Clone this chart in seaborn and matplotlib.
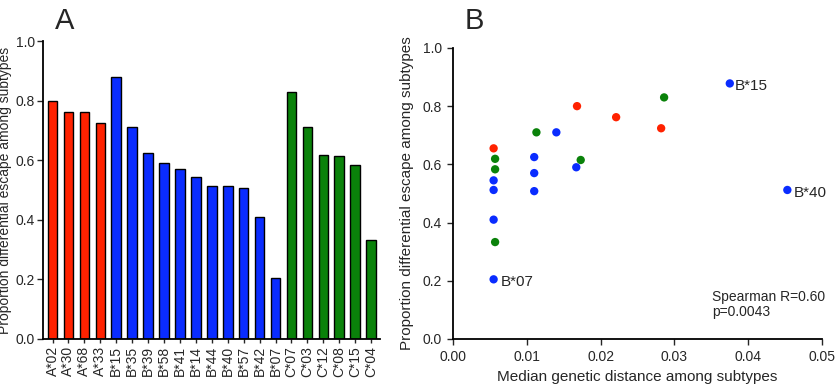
import matplotlib
matplotlib.use("Agg")
import matplotlib.pyplot as plt
import seaborn as sns
import pandas as pd

sns.set_theme(style="ticks")
plt.rcParams['font.family'] = ['Liberation Sans', 'DejaVu Sans']

# Panel A data
alleles = ["A*02", "A*30", "A*68", "A*33",
           "B*15", "B*35", "B*39", "B*58", "B*41", "B*14", "B*44", "B*40", "B*57", "B*42", "B*07",
           "C*07", "C*03", "C*12", "C*08", "C*15", "C*04"]
escape = [0.800, 0.762, 0.762, 0.724,
          0.878, 0.710, 0.625, 0.590, 0.570, 0.545, 0.512, 0.512, 0.508, 0.410, 0.205,
          0.830, 0.710, 0.619, 0.615, 0.583, 0.333]
locus = [a[0] for a in alleles]

# Panel B data
red_x = [0.0055, 0.0168, 0.0221, 0.0282]
red_y = [0.655, 0.800, 0.762, 0.724]
green_x = [0.0057, 0.0057, 0.0057, 0.0113, 0.0173, 0.0286]
green_y = [0.619, 0.583, 0.333, 0.710, 0.615, 0.830]
blue_x = [0.0055, 0.0055, 0.0055, 0.0055, 0.0110, 0.0110, 0.0110, 0.0140, 0.0167, 0.0375, 0.0453]
blue_y = [0.545, 0.512, 0.410, 0.205, 0.625, 0.570, 0.508, 0.710, 0.590, 0.878, 0.512]

colors = {"A": "#ff2200", "B": "#0a2cff", "C": "#0a820a"}

fig = plt.figure(figsize=(8.36, 3.84), dpi=100)
axA = fig.add_axes([0.0514, 0.1172, 0.403, 0.776])
axB = fig.add_axes([0.5419, 0.1172, 0.4414, 0.758])

dfA = pd.DataFrame({"allele": alleles, "escape": escape, "locus": locus})
sns.barplot(data=dfA, x="allele", y="escape", hue="locus", palette=colors,
            dodge=False, width=0.6, edgecolor="black", linewidth=1.0,
            legend=False, ax=axA, saturation=1)
axA.set_xlim(-0.6, 20.55)
axA.set_ylim(0, 1.0)
axA.set_yticks([0, 0.2, 0.4, 0.6, 0.8, 1.0])
axA.set_yticklabels(["0.0", "0.2", "0.4", "0.6", "0.8", "1.0"], fontsize=10)
axA.tick_params(axis="x", labelrotation=90, labelsize=10, length=3, width=1, pad=2)
axA.tick_params(axis="y", length=4, width=1, pad=2)
axA.set_xlabel("")
axA.set_ylabel("Proportion differential escape among subtypes", fontsize=10, labelpad=2)
sns.despine(ax=axA)
for s in ["left", "bottom"]:
    axA.spines[s].set_linewidth(1.3)
    axA.spines[s].set_color("black")
fig.text(0.066, 0.945, "A", fontsize=21, ha="left", va="center")

dfB = pd.DataFrame({
    "x": red_x + green_x + blue_x,
    "y": red_y + green_y + blue_y,
    "locus": ["A"] * len(red_x) + ["C"] * len(green_x) + ["B"] * len(blue_x),
})
sns.scatterplot(data=dfB, x="x", y="y", hue="locus", palette=colors, s=36,
                edgecolor="none", legend=False, ax=axB)
axB.set_xlim(0, 0.05)
axB.set_ylim(0, 1.0)
axB.set_xticks([0, 0.01, 0.02, 0.03, 0.04, 0.05])
axB.set_xticklabels(["0.00", "0.01", "0.02", "0.03", "0.04", "0.05"], fontsize=10)
axB.set_yticks([0, 0.2, 0.4, 0.6, 0.8, 1.0])
axB.set_yticklabels(["0.0", "0.2", "0.4", "0.6", "0.8", "1.0"], fontsize=10)
axB.tick_params(length=4, width=1, pad=4)
axB.set_xlabel("Median genetic distance among subtypes", fontsize=11, labelpad=4)
axB.set_ylabel("Proportion differential escape among subtypes", fontsize=11, labelpad=6)
sns.despine(ax=axB)
for s in ["left", "bottom"]:
    axB.spines[s].set_linewidth(1.3)
    axB.spines[s].set_color("black")

axB.text(0.0382, 0.869, "B*15", fontsize=11, va="center", ha="left")
axB.text(0.0461, 0.502, "B*40", fontsize=11, va="center", ha="left")
axB.text(0.0064, 0.196, "B*07", fontsize=11, va="center", ha="left")
axB.text(0.0351, 0.17, "Spearman R=0.60\np=0.0043", fontsize=10, va="top", ha="left",
         linespacing=1.1)
fig.text(0.556, 0.945, "B", fontsize=21, ha="left", va="center")

fig.savefig("out.png", dpi=100)
